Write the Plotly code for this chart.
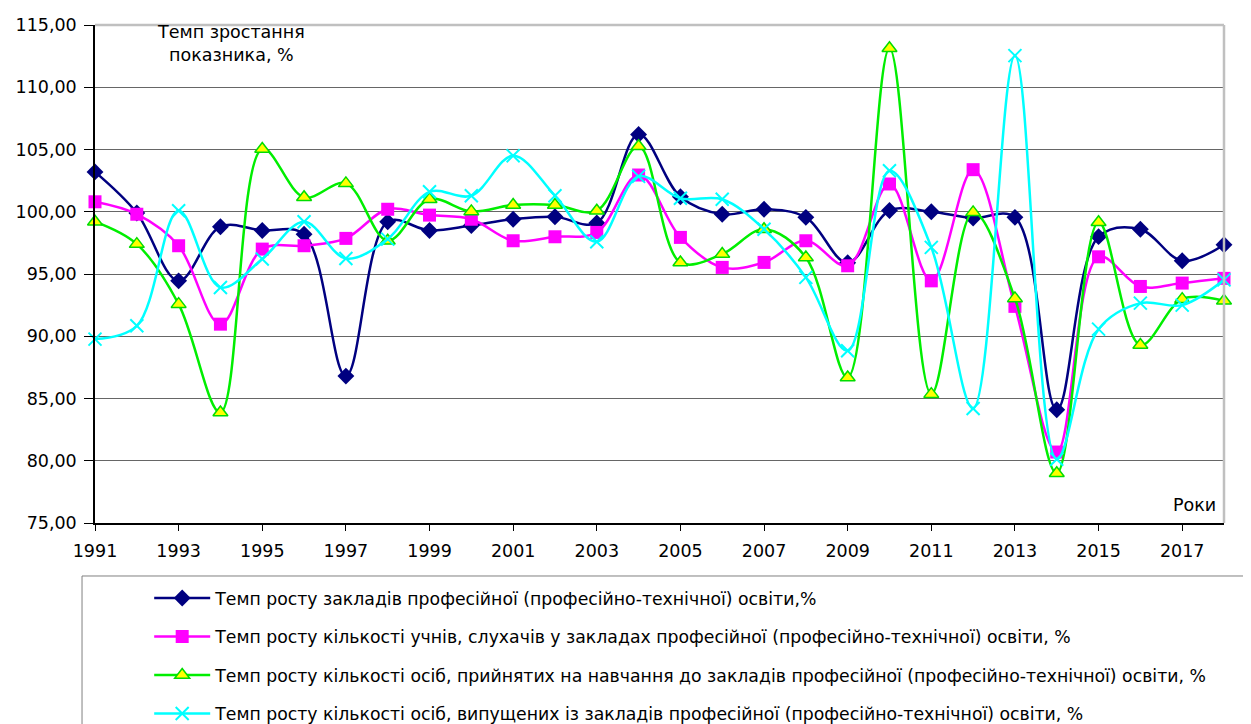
import plotly.graph_objects as go

years = list(range(1991, 2019))

zaklady = [103.2, 99.9, 94.45, 98.8, 98.5, 98.2, 86.8, 99.2, 98.5, 98.9,
           99.4, 99.6, 99.1, 106.2, 101.2, 99.8, 100.2, 99.55, 95.9, 100.1,
           100.0, 99.5, 99.55, 84.1, 98.0, 98.6, 96.06, 97.35]
uchni = [100.8, 99.8, 97.27, 90.97, 97.0, 97.27, 97.86, 100.2, 99.73, 99.4,
         97.67, 97.99, 98.34, 102.95, 97.94, 95.53, 95.93, 97.67, 95.66, 102.23,
         94.45, 103.38, 92.4, 80.7, 96.38, 94.0, 94.27, 94.65]
pryiniati = [99.2, 97.4, 92.58, 83.87, 105.04, 101.16, 102.28, 97.67, 101.0, 100.03,
             100.54, 100.54, 100.08, 105.26, 95.93, 96.6, 98.6, 96.33, 86.69, 113.13,
             85.35, 99.95, 93.04, 79.0, 99.15, 89.3, 92.98, 92.85]
vypushcheni = [89.77, 90.84, 100.08, 93.92, 96.2, 99.2, 96.25, 97.8, 101.6, 101.29,
               104.5, 101.29, 97.59, 102.84, 101.08, 101.0, 98.6, 94.73, 88.83, 103.3,
               97.14, 84.2, 112.54, 80.12, 90.57, 92.66, 92.5, 94.53]

names = [
    "Темп росту закладів професійної (професійно-технічної) освіти,%",
    "Темп росту кількості учнів, слухачів у закладах професійної (професійно-технічної) освіти, %",
    "Темп росту кількості осіб, прийнятих на навчання до закладів професійної (професійно-технічної) освіти, %",
    "Темп росту кількості осіб, випущених із закладів професійної (професійно-технічної) освіти, %",
]
x_ticks = list(range(1991, 2018, 2))

FONT = "DejaVu Sans, Arial, sans-serif"

fig = go.Figure()
fig.add_trace(go.Scatter(x=years, y=zaklady, name=names[0], mode="lines+markers",
                         line=dict(color="#000080", width=2.5, shape="spline", smoothing=1),
                         marker=dict(symbol="diamond", size=13, color="#000080"),
                         cliponaxis=False, legendgroup="a"))
fig.add_trace(go.Scatter(x=years, y=uchni, name=names[1], mode="lines+markers",
                         line=dict(color="#FF00FF", width=2.5, shape="spline", smoothing=1),
                         marker=dict(symbol="square", size=13, color="#FF00FF"),
                         cliponaxis=False, legendgroup="b"))
fig.add_trace(go.Scatter(x=years, y=pryiniati, name=names[2], mode="lines+markers",
                         line=dict(color="#00EE00", width=2.5, shape="spline", smoothing=1),
                         marker=dict(symbol="triangle-up", size=13, color="#FFFF00",
                                     line=dict(color="#00DD00", width=1.5)),
                         cliponaxis=False, legendgroup="c"))
fig.add_trace(go.Scatter(x=years, y=vypushcheni, name=names[3], mode="lines+markers",
                         line=dict(color="#00FFFF", width=2.5, shape="spline", smoothing=1),
                         marker=dict(symbol="x-thin", size=13, color="#00FFFF",
                                     line=dict(color="#00FFFF", width=2)),
                         cliponaxis=False, legendgroup="d"))

fig.update_layout(
    width=1251, height=724,
    margin=dict(l=87, r=35, t=17, b=209, autoexpand=False),
    paper_bgcolor="white", plot_bgcolor="white",
    separators=", ",
    font=dict(family=FONT, size=17, color="black"),
    showlegend=True,
    legend=dict(x=0.048, y=-0.115, xanchor="left", yanchor="top",
                font=dict(family=FONT, size=17.3), tracegroupgap=13, bgcolor="rgba(0,0,0,0)",
                itemwidth=56),
    xaxis=dict(range=[1991, 2018], tickvals=x_ticks, ticktext=[str(v) for v in x_ticks],
               showgrid=False, zeroline=False, showline=True, linecolor="black", linewidth=1.5,
               ticks="outside", ticklen=6, tickcolor="black", tickfont=dict(size=17.5),
               ticklabelstandoff=5, automargin=False),
    yaxis=dict(range=[75, 115], dtick=5, tickformat=".2f",
               showgrid=True, gridcolor="#666666", gridwidth=1, zeroline=False,
               showline=True, linecolor="black", linewidth=1.5,
               ticks="outside", ticklen=9, tickcolor="black", tickfont=dict(size=17.5),
               ticklabelstandoff=4, automargin=False),
    shapes=[
        dict(type="line", xref="paper", yref="paper", x0=0, x1=1, y0=1, y1=1,
             line=dict(color="#c0c0c0", width=2.5)),
        dict(type="line", xref="paper", yref="paper", x0=1, x1=1, y0=0, y1=1,
             line=dict(color="#c0c0c0", width=2.5)),
        dict(type="rect", xref="paper", yref="paper", x0=-0.0115, x1=1.05, y0=-0.1064, y1=-0.45,
             line=dict(color="#808080", width=1)),
    ],
    annotations=[
        dict(text="Темп зростання<br>показника, %", xref="paper", yref="paper",
             x=(231 - 95) / 1129, y=1.01, xanchor="center", yanchor="top",
             showarrow=False, font=dict(size=17.5)),
        dict(text="Роки", xref="paper", yref="paper", x=(1218 - 95) / 1129,
             y=(523 - 505) / 498, xanchor="right", yanchor="middle",
             showarrow=False, font=dict(size=17.5)),
    ],
)

fig.write_html("out.html")
